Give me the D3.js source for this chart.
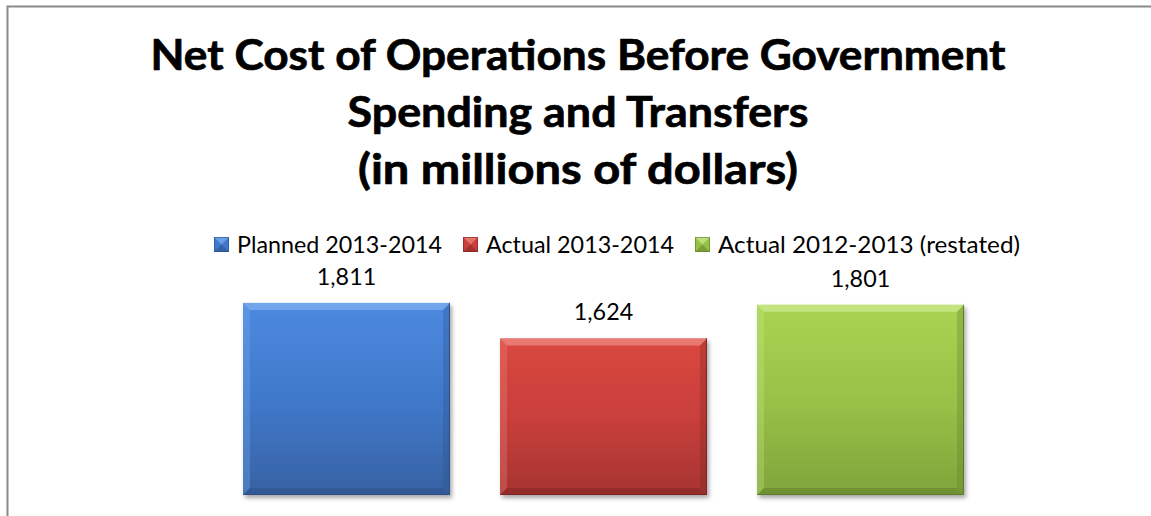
<!DOCTYPE html>
<html>
<head>
<meta charset="utf-8">
<script src="https://cdn.jsdelivr.net/npm/d3@7"></script>
<style>
  html, body { margin: 0; padding: 0; background: #fff; }
  svg { display: block; }
  text { font-family: Lato, "Open Sans", sans-serif; fill: #000; }
</style>
</head>
<body>
<svg id="chart" width="1151" height="516"></svg>
<script>
// Series names (one bar per series) and their values, in millions of dollars
const seriesNames = ["Planned 2013-2014", "Actual 2013-2014", "Actual 2012-2013 (restated)"];
const seriesValues = [1811, 1624, 1801];
const seriesColors = [
  { top: "#4c8ae0", mid: "#4079cb", bottom: "#3762a3", light: "#7fb0f0", dark: "#2b4e85" },
  { top: "#d9483f", mid: "#c93f3c", bottom: "#a63431", light: "#ef8a84", dark: "#7d2422" },
  { top: "#a9d452", mid: "#98c247", bottom: "#7fa43b", light: "#cde98f", dark: "#5d7a27" }
];
const titleLines = ["Net Cost of Operations Before Government", "Spending and Transfers", "(in millions of dollars)"];
const valueDomain = [800, 2000];

// Set widths for the text runs
const titleWidths = [855, 461, 440];
const legendWidths = [205, 188, 302];

const svg = d3.select("#chart");
const W = 1151, H = 516;
const fmt = d3.format(",");

function fitWidth(sel, w) {
  sel.attr("textLength", w).attr("lengthAdjust", "spacingAndGlyphs");
}

// Frame of the chart area
svg.append("path")
  .attr("d", `M7.5,${H} V6.5 H${W}`)
  .attr("fill", "none")
  .attr("stroke", "#898989")
  .attr("stroke-width", 2);

// Title
const titleSize = 42;
const titleBaselines = [70, 127, 184];
const titleG = svg.append("g").attr("font-weight", "bold")
  .attr("stroke", "#000").attr("stroke-width", 0.7);
titleG.selectAll("text")
  .data(titleLines)
  .join("text")
  .attr("x", 578)
  .attr("y", (d, i) => titleBaselines[i])
  .attr("text-anchor", "middle")
  .attr("font-size", titleSize)
  .text(d => d)
  .each(function (d, i) { fitWidth(d3.select(this), titleWidths[i]); });

// Scales
const x = d3.scaleBand().domain(seriesNames).range([218, 989]).paddingInner(0.1946).paddingOuter(0.0973);
const y = d3.scaleLinear().domain(valueDomain).range([495, 267]);

// Gradients per series and a soft shadow
const defs = svg.append("defs");
seriesColors.forEach((c, i) => {
  const g = defs.append("linearGradient").attr("id", "grad" + i)
    .attr("x1", 0).attr("y1", 0).attr("x2", 0).attr("y2", 1);
  g.append("stop").attr("offset", "0%").attr("stop-color", c.top);
  g.append("stop").attr("offset", "50%").attr("stop-color", c.mid);
  g.append("stop").attr("offset", "100%").attr("stop-color", c.bottom);
});
const shadow = defs.append("filter").attr("id", "shadow")
  .attr("x", "-10%").attr("y", "-10%").attr("width", "130%").attr("height", "130%");
shadow.append("feDropShadow").attr("dx", 2).attr("dy", 3).attr("stdDeviation", 2)
  .attr("flood-color", "#000").attr("flood-opacity", 0.35);

// Bars with bevelled edges
const bev = 7;
const barData = seriesNames.map((n, i) => ({ name: n, value: seriesValues[i], c: seriesColors[i], i }));
const bars = svg.append("g").selectAll("g.bar")
  .data(barData)
  .join("g").attr("class", "bar");

bars.each(function (d) {
  const g = d3.select(this);
  const x0 = x(d.name), x1 = x0 + x.bandwidth();
  const y0 = y(d.value), y1 = y(valueDomain[0]);
  g.append("rect")
    .attr("x", x0).attr("y", y0).attr("width", x1 - x0).attr("height", y1 - y0)
    .attr("fill", `url(#grad${d.i})`)
    .attr("filter", "url(#shadow)");
  g.append("path")
    .attr("d", `M${x0},${y0} L${x1},${y0} L${x1 - bev},${y0 + bev} L${x0 + bev},${y0 + bev} Z`)
    .attr("fill", d.c.light).attr("opacity", 0.75);
  g.append("path")
    .attr("d", `M${x0},${y0} L${x0 + bev},${y0 + bev} L${x0 + bev},${y1 - bev} L${x0},${y1} Z`)
    .attr("fill", d.c.light).attr("opacity", 0.3);
  g.append("path")
    .attr("d", `M${x1},${y0} L${x1},${y1} L${x1 - bev},${y1 - bev} L${x1 - bev},${y0 + bev} Z`)
    .attr("fill", d.c.dark).attr("opacity", 0.3);
  g.append("path")
    .attr("d", `M${x0},${y1} L${x1},${y1} L${x1 - bev},${y1 - bev} L${x0 + bev},${y1 - bev} Z`)
    .attr("fill", d.c.dark).attr("opacity", 0.45);
  g.append("path")
    .attr("d", `M${x1 - 0.5},${y0} V${y1 - 0.5} H${x0}`)
    .attr("fill", "none").attr("stroke", d.c.dark).attr("stroke-width", 1).attr("opacity", 0.9);
});

// Legend
const labelSize = 23.5;
const legend = svg.append("g");
const ms = 15, legendY = 244.5;
let lx = 214;
let legendRatio = null;
seriesNames.forEach((n, i) => {
  const c = seriesColors[i];
  const g = legend.append("g");
  const top = legendY - ms / 2;
  const mx = lx;
  g.append("rect").attr("x", mx).attr("y", top).attr("width", ms).attr("height", ms).attr("fill", c.mid);
  g.append("path").attr("d", `M${mx},${top} L${mx + ms},${top} L${mx + ms / 2},${top + ms / 2} Z`).attr("fill", c.light).attr("opacity", 0.7);
  g.append("path").attr("d", `M${mx},${top + ms} L${mx + ms},${top + ms} L${mx + ms / 2},${top + ms / 2} Z`).attr("fill", c.dark).attr("opacity", 0.5);
  g.append("rect").attr("x", mx + 0.5).attr("y", top + 0.5).attr("width", ms - 1).attr("height", ms - 1)
    .attr("fill", "none").attr("stroke", c.dark).attr("stroke-width", 1).attr("opacity", 0.6);
  const t = g.append("text").attr("x", mx + ms + 8).attr("y", legendY + 8).attr("font-size", labelSize).text(n);
  if (legendRatio === null) legendRatio = legendWidths[0] / t.node().getComputedTextLength();
  fitWidth(t, legendWidths[i]);
  lx = mx + ms + 8 + legendWidths[i] + 21;
});

// Value labels
const labels = svg.append("g").selectAll("text")
  .data(barData)
  .join("text")
  .attr("x", d => x(d.name) + x.bandwidth() / 2)
  .attr("y", d => y(d.value) - 18)
  .attr("text-anchor", "middle")
  .attr("font-size", labelSize)
  .text(d => fmt(d.value))
  .each(function () {
    fitWidth(d3.select(this), this.getComputedTextLength() * legendRatio);
  });
</script>
</body>
</html>
